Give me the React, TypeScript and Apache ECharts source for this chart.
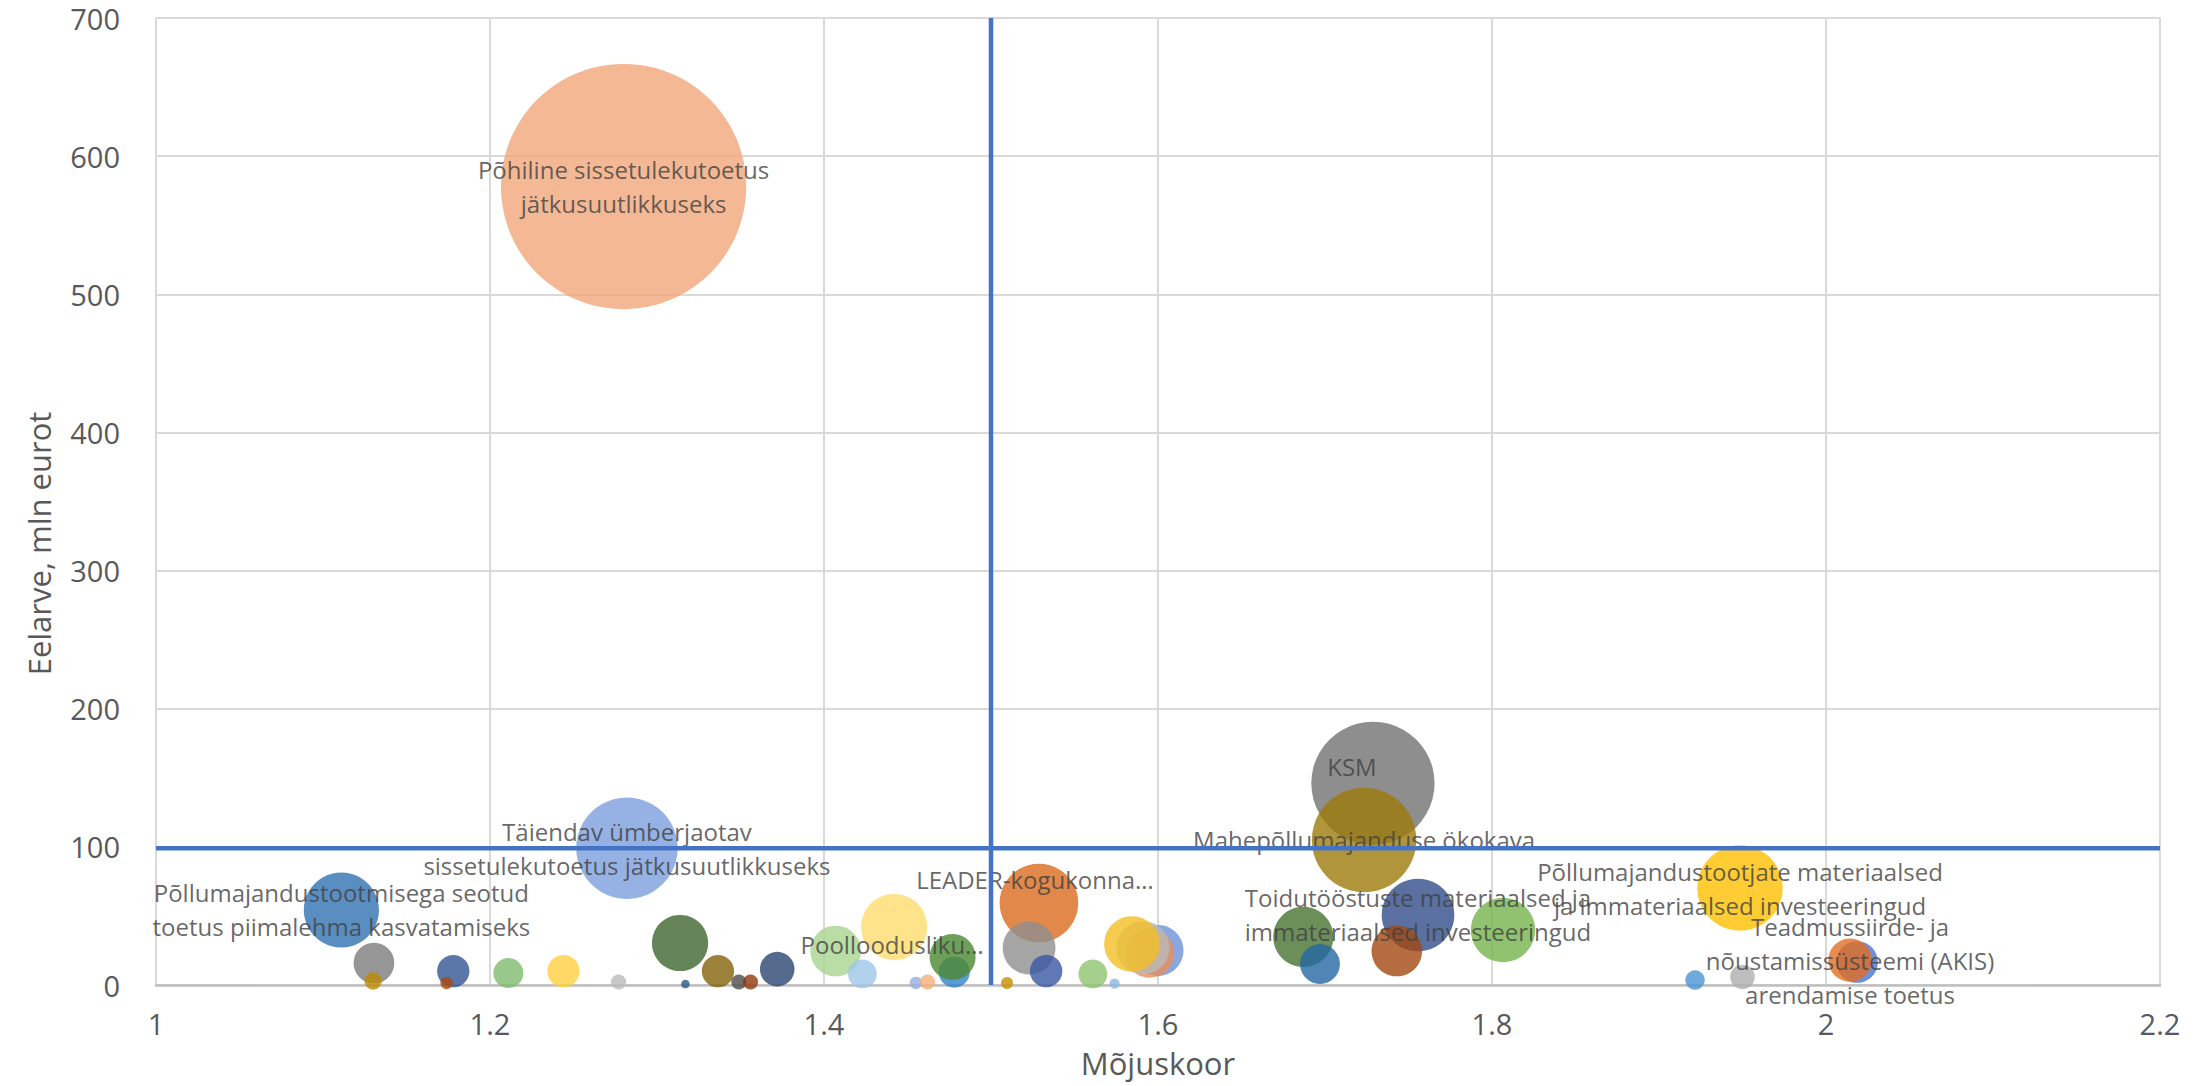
import React, { useEffect, useRef } from "react";
import * as echarts from "echarts";

// Mõjuskoor (impact score) per measure
const impactScore = [
  1.111, 1.1305, 1.13, 1.178, 1.174, 1.211, 1.244, 1.277, 1.28, 1.282,
  1.3138, 1.317, 1.3365, 1.349, 1.356, 1.372, 1.407, 1.423, 1.442, 1.455,
  1.462, 1.478, 1.477, 1.5096, 1.5287, 1.5228, 1.533, 1.561, 1.574, 1.6,
  1.595, 1.591, 1.5844, 1.687, 1.697, 1.7287, 1.7234, 1.7557, 1.743, 1.8066,
  1.9216, 1.9485, 1.95, 2.0186, 2.0144,
];

// Eelarve, mln eurot (budget) per measure — also the bubble size
const budget = [
  54.3, 15.9, 2.9, 10, 1.5, 8.7, 10, 2.2, 578, 99,
  30.4, 0.7, 10, 2.2, 2.2, 11.5, 24.6, 8, 42, 1.5,
  2.2, 9.4, 20.3, 1.4, 59.4, 26.8, 10.1, 8, 1, 25,
  23, 27, 29.7, 34.8, 15.2, 146, 105, 50.7, 24.6, 39.8,
  3.6, 70.2, 5.8, 16.6, 18,
];

// Data labels (empty = no label)
const measureLabels = [
  "Põllumajandustootmisega seotud\ntoetus piimalehma kasvatamiseks", "", "", "", "", "", "", "",
  "Põhiline sissetulekutoetus\njätkusuutlikkuseks",
  "Täiendav ümberjaotav\nsissetulekutoetus jätkusuutlikkuseks",
  "", "", "", "", "", "", "", "",
  "Poolloodusliku…",
  "", "", "", "", "",
  "LEADER-kogukonna…",
  "", "", "", "", "", "", "", "", "", "",
  "KSM",
  "Mahepõllumajanduse ökokava",
  "Toidutööstuste materiaalsed ja\nimmateriaalsed investeeringud",
  "", "", "",
  "Põllumajandustootjate materiaalsed\nja immateriaalsed investeeringud",
  "", "",
  "Teadmussiirde- ja\nnõustamissüsteemi (AKIS)\narendamise toetus",
];

// Reference thresholds
const thresholdScore = 1.5;
const thresholdBudget = 99;

// Axis ticks
const xTicks = { min: 1, max: 2.2, interval: 0.2 };
const yTicks = { min: 0, max: 700, interval: 100 };

// Styles (not data)
const bubbleColors = [
  "#3272B0", "#7C7C7C", "#BC8B00", "#325492", "#A84A10", "#7EBC6D", "#FFCF40", "#BABABA",
  "#F1A879", "#7C9FDD", "#3E652D", "#2A5A8C", "#836109", "#4C4C4C", "#8F3A0A", "#2C4572",
  "#A9D38F", "#9FC6E7", "#FFDC6D", "#94ADE0", "#F4AF79", "#3282CB", "#4B8831", "#C78D00",
  "#DB6A1D", "#8F8F8F", "#3856A0", "#8EC36F", "#8BB8E2", "#6D92D8", "#EA8E59", "#BABABA",
  "#F3BE24", "#477331", "#2368A2", "#727272", "#9E7A0A", "#2F4C88", "#A24810", "#74B34C",
  "#4B92D3", "#FFBF00", "#AEAEAE", "#4B74CC", "#E26E22",
];
const labelOffsets: Record<number, [number, number]> = {
  18: [-2, 18],
  24: [-4, -23],
  35: [-21, -17],
};

const FONT = "'Open Sans', 'Noto Sans', sans-serif";

export default function App() {
  const ref = useRef<HTMLDivElement>(null);
  useEffect(() => {
    if (!ref.current) return;
    const chart = echarts.init(ref.current, undefined, { renderer: "svg" });
    const data = impactScore.map((x, i) => {
      const item: any = {
        value: [x, budget[i]],
        itemStyle: { color: bubbleColors[i], opacity: 0.8 },
      };
      if (measureLabels[i]) {
        item.label = {
          show: true,
          formatter: measureLabels[i],
          position: "inside",
          offset: labelOffsets[i] || [0, 0],
        };
      }
      return item;
    });
    chart.setOption({
      animation: false,
      backgroundColor: "#ffffff",
      grid: { left: 156, right: 46, top: 18, bottom: 101, containLabel: false },
      xAxis: {
        type: "value",
        min: xTicks.min,
        max: xTicks.max,
        interval: xTicks.interval,
        name: "Mõjuskoor",
        nameLocation: "middle",
        nameGap: 62,
        nameTextStyle: { fontFamily: FONT, fontSize: 31, color: "#595959" },
        axisLine: { show: true, lineStyle: { color: "#bfbfbf", width: 2.5 } },
        axisTick: { show: false },
        axisLabel: { fontFamily: FONT, fontSize: 29, color: "#595959", margin: 24 },
        splitLine: { show: true, lineStyle: { color: "#d9d9d9", width: 2 } },
      },
      yAxis: {
        type: "value",
        min: yTicks.min,
        max: yTicks.max,
        interval: yTicks.interval,
        name: "Eelarve, mln eurot",
        nameLocation: "middle",
        nameGap: 102,
        nameTextStyle: { fontFamily: FONT, fontSize: 31, color: "#595959", padding: [0, 84, 0, 0] },
        axisLine: { show: false },
        axisTick: { show: false },
        axisLabel: { fontFamily: FONT, fontSize: 29, color: "#595959", margin: 36 },
        splitLine: { show: true, lineStyle: { color: "#d9d9d9", width: 2 } },
      },
      series: [
        {
          type: "scatter",
          z: 2,
          symbolSize: (val: number[]) => 10.2 * Math.sqrt(val[1]),
          label: {
            fontFamily: FONT,
            fontSize: 24,
            lineHeight: 34,
            color: "#404040",
            align: "center",
          },
          emphasis: { disabled: true },
          data,
        },
        {
          type: "line",
          z: 3,
          symbol: "none",
          lineStyle: { color: "#4472C4", width: 4.5 },
          data: [
            [thresholdScore, yTicks.min],
            [thresholdScore, yTicks.max],
          ],
        },
        {
          type: "line",
          z: 3,
          symbol: "none",
          lineStyle: { color: "#4472C4", width: 4.5 },
          data: [
            [xTicks.min, thresholdBudget],
            [xTicks.max, thresholdBudget],
          ],
        },
      ],
    });
    return () => chart.dispose();
  }, []);
  return (
    <div
      ref={ref}
      style={{ position: "fixed", left: 0, top: 0, width: "2206px", height: "1086px", background: "#fff" }}
    />
  );
}
